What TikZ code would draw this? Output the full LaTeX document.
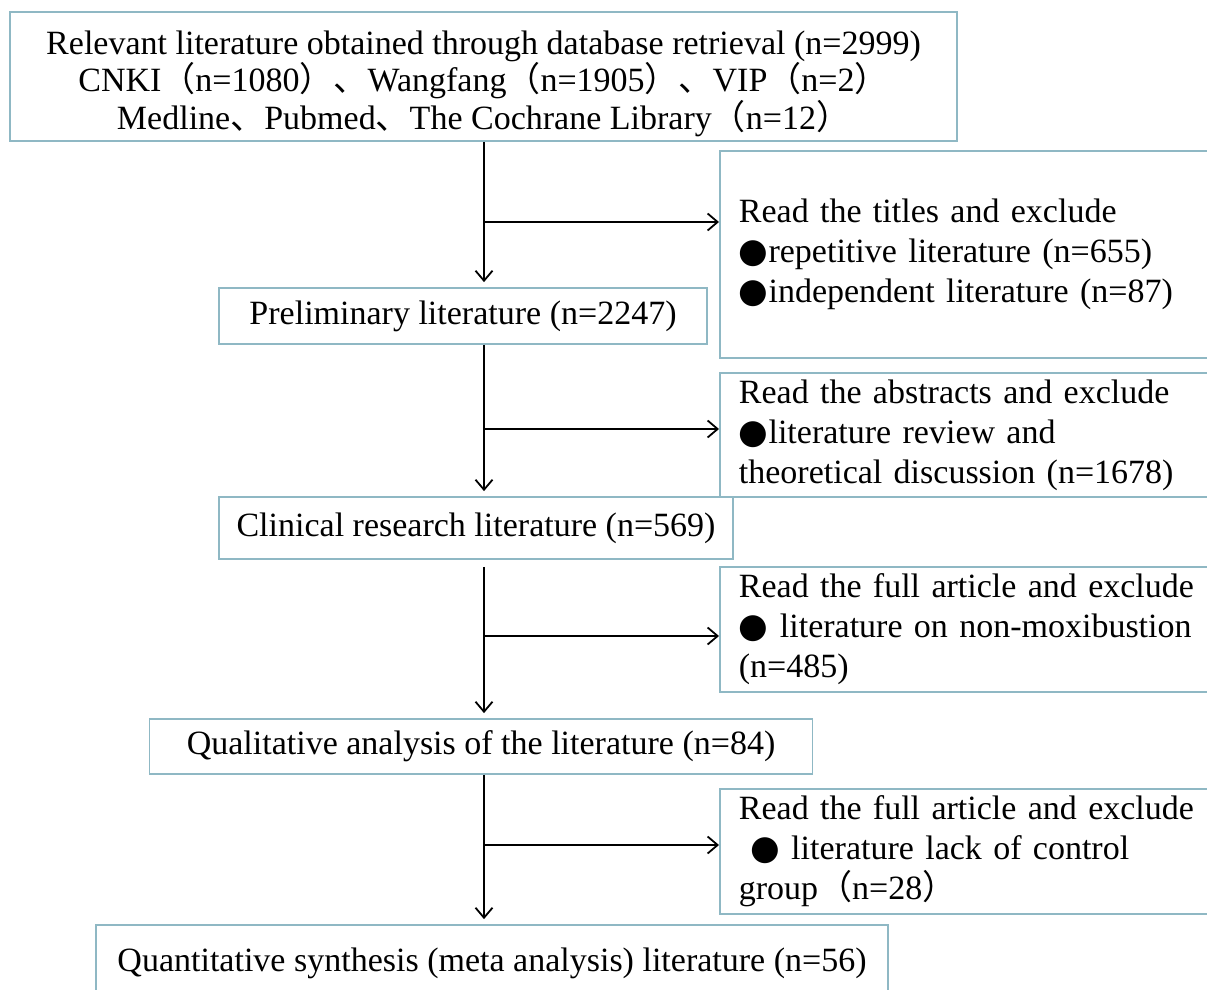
\documentclass[tikz,border=0pt]{standalone}
\usepackage{fontspec}
\setmainfont{Liberation Serif}
\newfontfamily\cjkfont{Noto Sans CJK SC}
\newfontfamily\symfont{DejaVu Sans}
\usetikzlibrary{arrows.meta}
\definecolor{boxline}{HTML}{8FB8C4}
\newcommand{\blackdot}{{\symfont ●}}
\newcommand{\cjklp}{{\cjkfont （}}
\newcommand{\cjkrp}{{\cjkfont ）}}
\newcommand{\cjkdun}{{\cjkfont 、}}
\tikzset{
  mainbox/.style={draw=boxline, line width=1.8pt, align=center, inner sep=0pt},
  sidebox/.style={draw=boxline, line width=1.8pt, anchor=north west, align=left,
    text width=462pt, inner xsep=19pt, inner ysep=0pt},
  flow/.style={-{Straight Barb[length=10pt,width=17pt]}, line width=1.8pt}
}
\begin{document}
\begin{tikzpicture}[x=1pt, y=-1pt, font=\fontsize{34}{40}\selectfont]

  \useasboundingbox[fill=white] (0,0) rectangle (1207,990);

  \coordinate (spine) at (484,0);

  \node[mainbox, minimum width=947pt, minimum height=129pt, font=\fontsize{34}{36}\selectfont] (search) at (483.5,76.5)
    {\rule{0pt}{38pt}Relevant literature obtained through database retrieval (n=2999)\\
     CNKI\cjklp n=1080\cjkrp\cjkdun Wangfang\cjklp n=1905\cjkrp\cjkdun VIP\cjklp n=2\cjkrp\\
     Medline\cjkdun Pubmed\cjkdun The Cochrane Library\cjklp n=12\cjkrp};

  \node[mainbox, minimum width=488pt, minimum height=56pt] (prelim) at (463,316)
    {Preliminary literature (n=2247)};

  \node[mainbox, minimum width=514pt, minimum height=62pt] (clinical) at (476,528)
    {Clinical research literature (n=569)};

  \node[mainbox, minimum width=663pt, minimum height=55pt] (qualit) at (481,746.5)
    {Qualitative analysis of the literature (n=84)};

  \node[mainbox, minimum width=792pt, minimum height=76pt] (quantit) at (492,963)
    {Quantitative synthesis (meta analysis) literature (n=56)};

  \node[sidebox, minimum height=207pt] (titles) at (719,150)
    {Read the titles and exclude\\
     \blackdot repetitive literature (n=655)\\
     \blackdot independent literature (n=87)};

  \node[sidebox, minimum height=124pt] (abstracts) at (719,372)
    {Read the abstracts and exclude\\
     \blackdot literature review and\\
     theoretical discussion (n=1678)};

  \node[sidebox, minimum height=125pt] (fulltext) at (719,566)
    {Read the full article and exclude\\
     \blackdot\ literature on non-moxibustion\\
     (n=485)};

  \node[sidebox, minimum height=125pt] (control) at (719,788)
    {Read the full article and exclude\\
     \ \blackdot\ literature lack of control\\
     group\cjklp n=28\cjkrp};

  \coordinate (split1) at (484,222);
  \coordinate (split2) at (484,429);
  \coordinate (split3) at (484,636);
  \coordinate (split4) at (484,845);

  \draw[flow, shorten >=5pt] (search.south -| spine) -- (prelim.north -| spine);
  \draw[flow, shorten >=5pt] (prelim.south -| spine) -- (clinical.north -| spine);
  \draw[flow, shorten <=7pt, shorten >=5pt] (clinical.south -| spine) -- (qualit.north -| spine);
  \draw[flow, shorten >=5pt] (qualit.south -| spine) -- (quantit.north -| spine);

  \draw[flow] (split1) -- (split1 -| titles.west);
  \draw[flow] (split2) -- (split2 -| abstracts.west);
  \draw[flow] (split3) -- (split3 -| fulltext.west);
  \draw[flow] (split4) -- (split4 -| control.west);

\end{tikzpicture}
\end{document}
